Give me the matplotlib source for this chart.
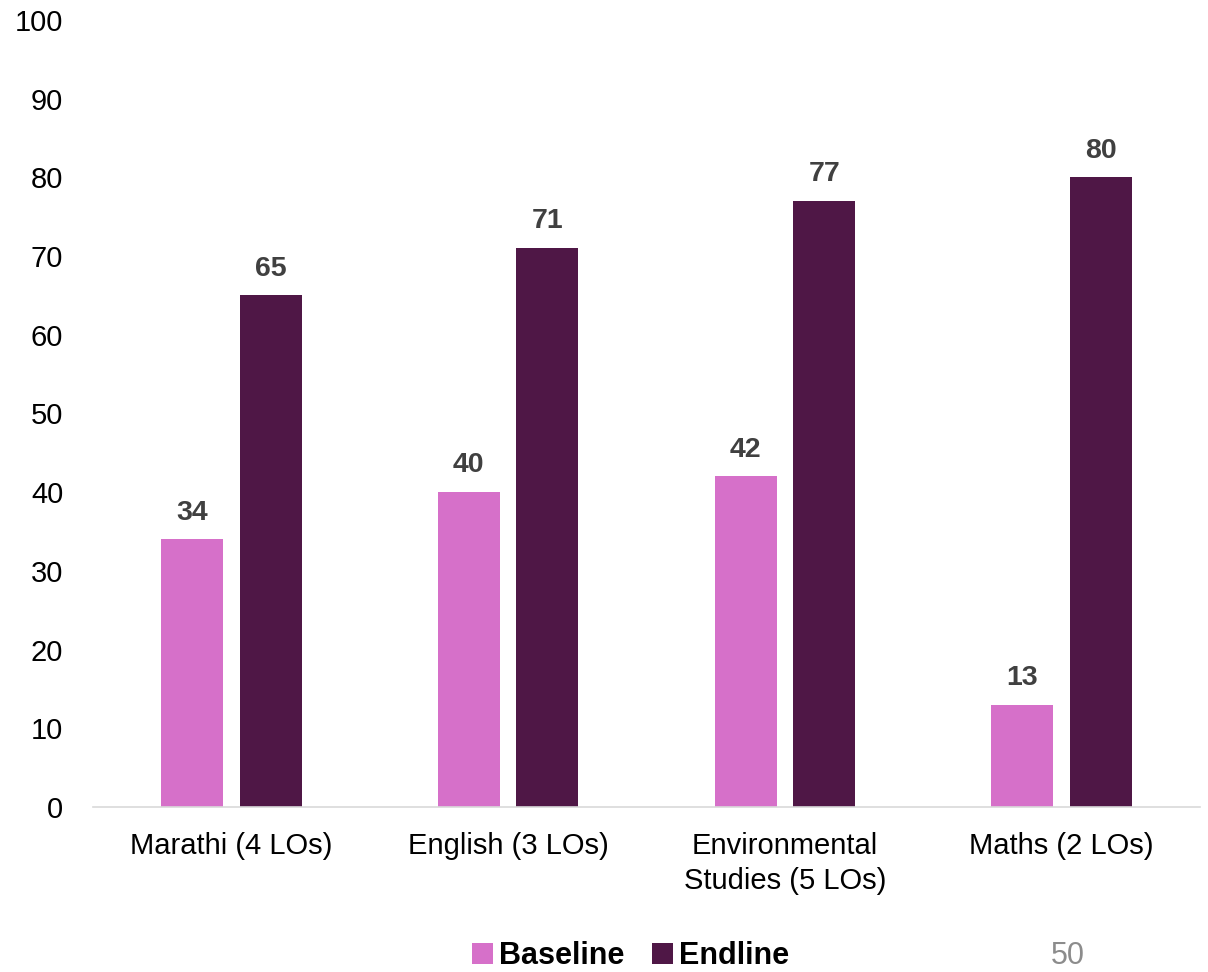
import matplotlib
matplotlib.use("Agg")
import matplotlib.pyplot as plt
import numpy as np

categories = ["Marathi (4 LOs)", "English (3 LOs)", "Environmental\nStudies (5 LOs)", "Maths (2 LOs)"]
baseline = [34, 40, 42, 13]
endline = [65, 71, 77, 80]
yticks = [0, 10, 20, 30, 40, 50, 60, 70, 80, 90, 100]

plt.rcParams['font.family'] = ['Liberation Sans', 'DejaVu Sans']

fig = plt.figure(figsize=(12.08, 9.72), dpi=100)
ax = fig.add_axes([0.077, 0.1698, 0.9164, 0.8096])

x = np.arange(len(categories))
w = 0.224
off = 0.142
c_base = "#D670C9"
c_end = "#4F1746"
b1 = ax.bar(x - off, baseline, w, color=c_base, label="Baseline")
b2 = ax.bar(x + off, endline, w, color=c_end, label="Endline")

for bars, vals in ((b1, baseline), (b2, endline)):
    for r, v in zip(bars, vals):
        ax.annotate(f"{v}", (r.get_x() + r.get_width() / 2, v), xytext=(0, 10),
                    textcoords="offset points", ha="center", va="bottom",
                    fontsize=20.5, fontweight="bold", color="#404040")

ax.set_xlim(-0.5, 3.5)
ax.set_ylim(0, 100)
ax.set_yticks(yticks)
ax.set_xticks(x)
ax.set_xticklabels(categories, fontsize=21, linespacing=1.3)
ax.tick_params(axis="y", labelsize=21, length=0, pad=21.5)
ax.tick_params(axis="x", length=0, pad=18)
for s in ("top", "right", "left"):
    ax.spines[s].set_visible(False)
ax.spines["bottom"].set_color("#D9D9D9")
ax.spines["bottom"].set_linewidth(1.2)

leg = fig.legend(handles=[b1, b2], labels=["Baseline", "Endline"], loc="center",
                 bbox_to_anchor=(0.522, 0.016), ncol=2, frameon=False,
                 prop={"weight": "bold", "size": 22}, handlelength=0.7, handleheight=0.7,
                 handletextpad=0.2, columnspacing=0.9)

fig.text(0.884, 0.016, "50", fontsize=22, color="#8C8C8C", ha="center", va="center")

fig.savefig("out.png", dpi=100)
